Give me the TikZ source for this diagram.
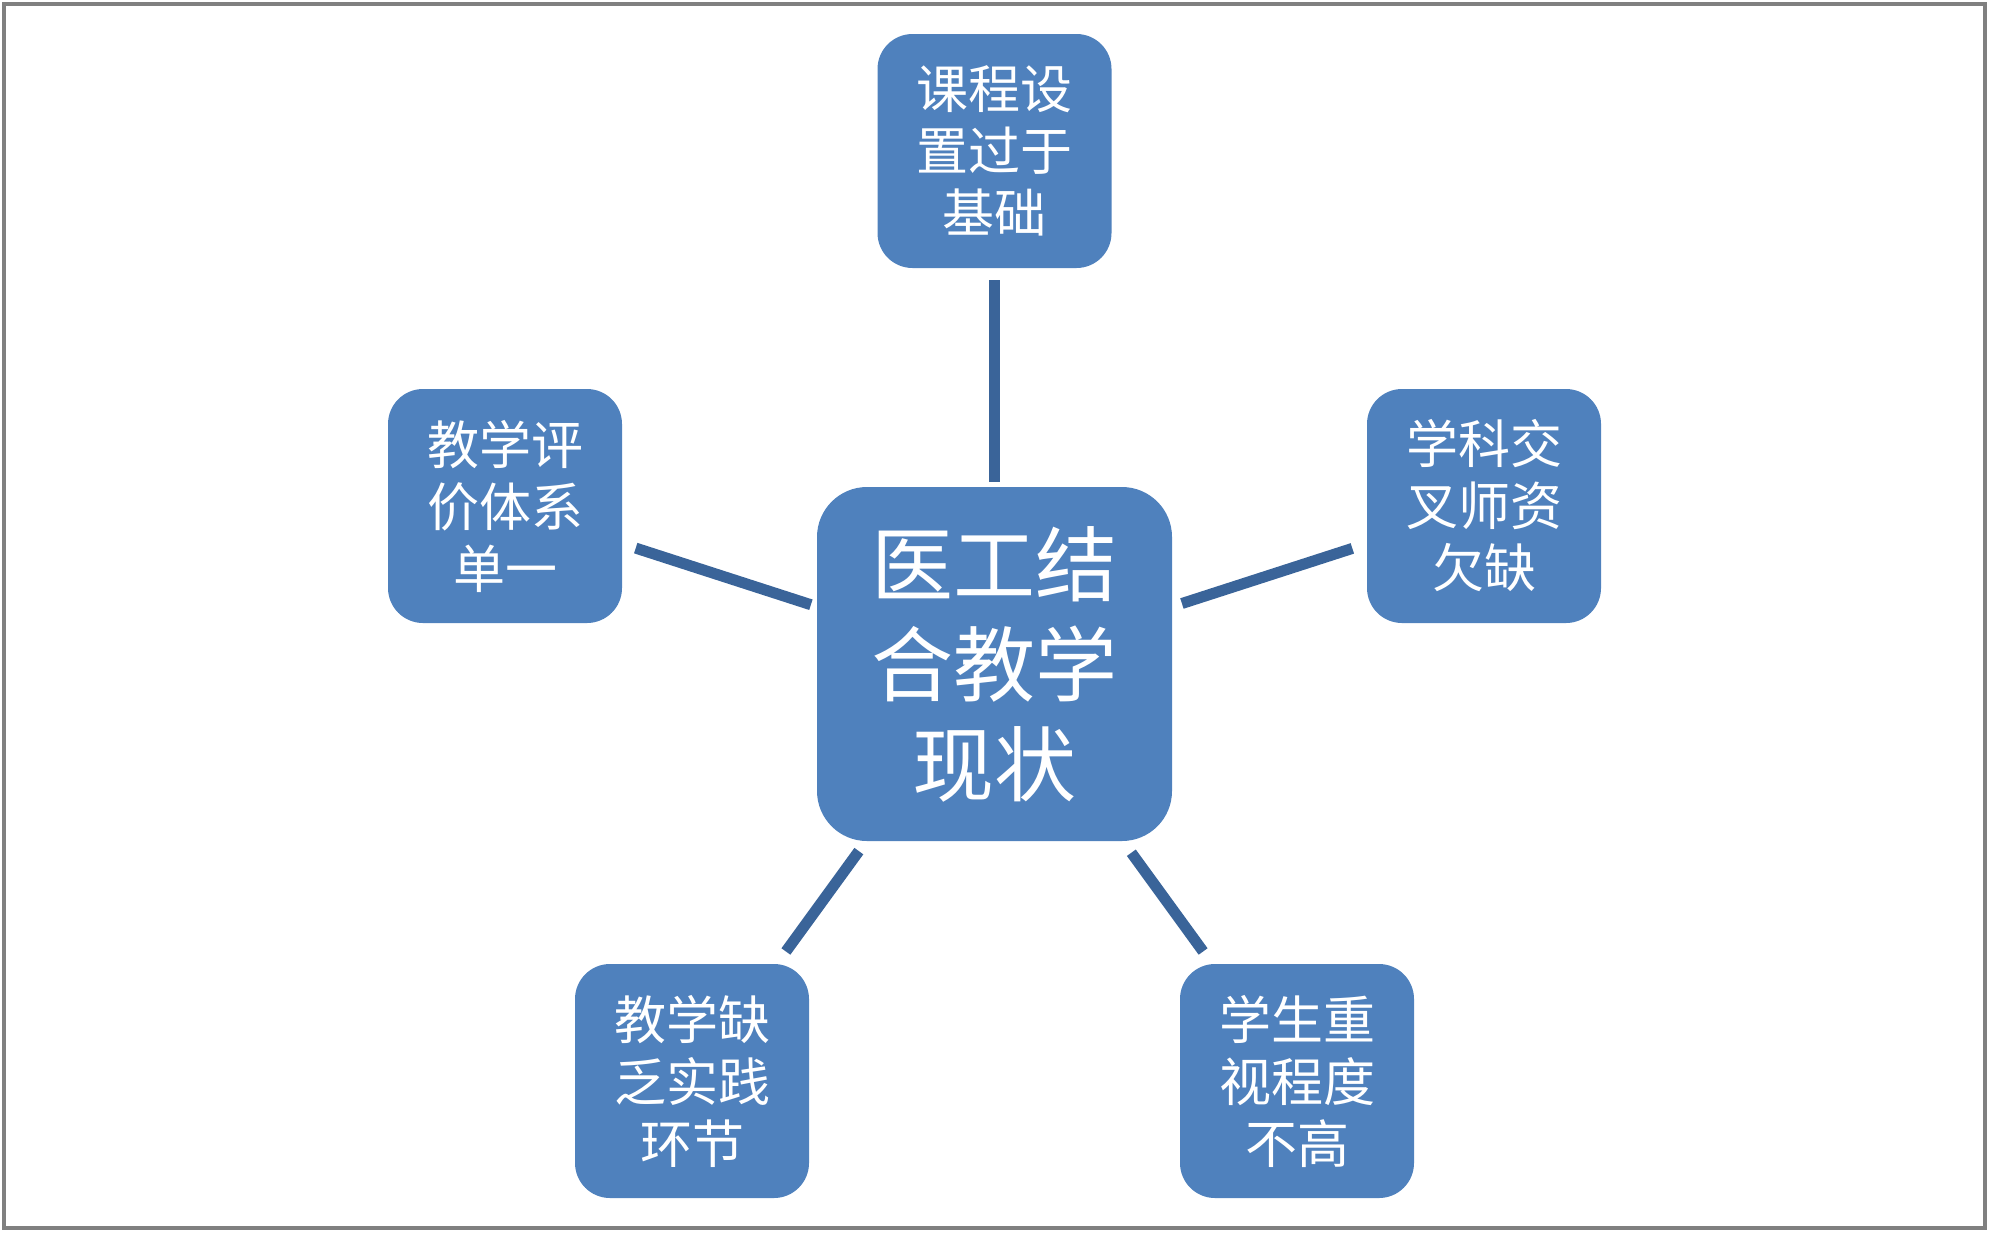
\documentclass[tikz,border=0pt]{standalone}
\usepackage{fontspec}
\newfontfamily\cjk{Noto Sans CJK SC}
\definecolor{boxblue}{HTML}{4F81BD}
\definecolor{linkblue}{HTML}{3A6499}
\definecolor{framegray}{HTML}{808080}
\begin{document}
\begin{tikzpicture}[x=0.5pt,y=-0.5pt,
  sat/.style={fill=boxblue, rounded corners=17.5pt, minimum width=117pt, minimum height=117pt,
    text=white, align=center, inner sep=0pt, font=\cjk\fontsize{26pt}{31pt}\selectfont},
  hub/.style={fill=boxblue, rounded corners=25pt, minimum width=177.5pt, minimum height=177pt,
    text=white, align=center, inner sep=0pt, font=\cjk\fontsize{41pt}{50pt}\selectfont},
  link/.style={draw=linkblue, line width=5.5pt}]
\useasboundingbox (0,0) rectangle (2000,1243);
\draw[framegray, line width=2.3pt] (4,4) rectangle (1985,1228);

\node[hub] (c) at (994.5,664) {医工结\\合教学\\现状};
\node[sat] (t) at (994.5,151) {课程设\\置过于\\基础};
\node[sat] (l) at (505,506) {教学评\\价体系\\单一};
\node[sat] (r) at (1484,506) {学科交\\叉师资\\欠缺};
\node[sat] (bl) at (692,1081) {教学缺\\乏实践\\环节};
\node[sat] (br) at (1297,1081) {学生重\\视程度\\不高};

\draw[link, shorten <=2.5pt, shorten >=6pt] (c) -- (t);
\draw[link, shorten <=3pt, shorten >=7pt] (c) -- (l);
\draw[link, shorten <=5pt, shorten >=7.5pt] (c) -- (r);
\draw[link, shorten <=6pt, shorten >=7.5pt] (c) -- (bl);
\draw[link, shorten <=7pt, shorten >=7.5pt] (c) -- (br);
\end{tikzpicture}
\end{document}
